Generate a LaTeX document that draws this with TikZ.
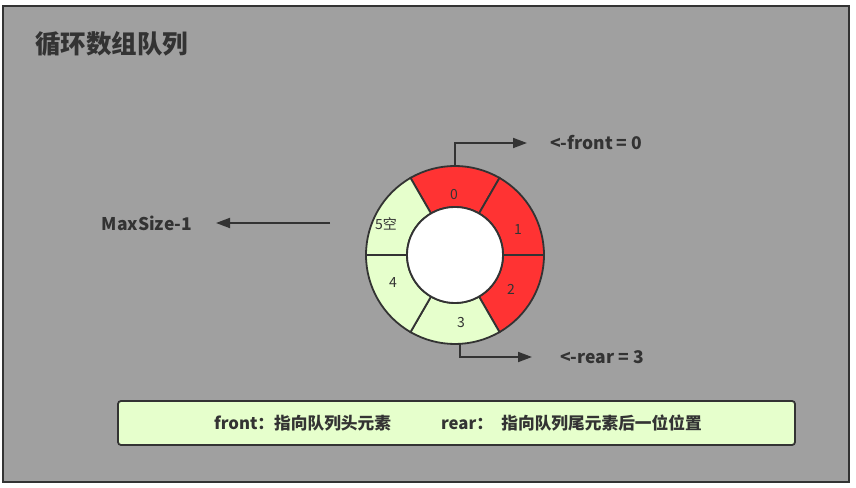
\documentclass[tikz,border=0pt]{standalone}
\usepackage{fontspec}
\setmainfont{Noto Sans CJK SC}
\usetikzlibrary{arrows.meta,positioning}
\definecolor{bggray}{HTML}{A0A0A0}
\definecolor{qred}{HTML}{FF3333}
\definecolor{qgreen}{HTML}{E6FFCC}
\definecolor{ink}{HTML}{333333}
\begin{document}
\begin{tikzpicture}[x=1pt,y=1pt]
                \useasboundingbox (0,0) rectangle (856,487);
                \fill[white] (0,0) rectangle (856,487);
                \draw[ink, line width=2pt, fill=bggray] (3,5) rectangle (849,481);
                \node[anchor=west, text=ink, font=\bfseries\fontsize{25.5}{30}\selectfont, inner sep=0] (title) at (35,443) {循环数组队列};
                % ring of six slots
                \begin{scope}[shift={(455,232)}, ink, line width=1.8pt]
                        \foreach \a/\c in {60/qred, 0/qred, -60/qred, -120/qgreen, 180/qgreen, 120/qgreen}
                                \filldraw[fill=\c] (\a:89) arc[start angle=\a, end angle=\a+60, radius=89] -- (\a+60:48) arc[start angle=\a+60, end angle=\a, radius=48] -- cycle;
                        \filldraw[fill=white] (0,0) circle [radius=48];
                \end{scope}
                \node[circle, minimum size=178pt, inner sep=0] (ring) at (455,232) {};
                \begin{scope}[every node/.style={text=ink, font=\fontsize{14}{16}\selectfont, inner sep=0}]
                        \node (s0) at (454,292) {0};
                        \node (s1) at (518,257) {1};
                        \node (s2) at (511,198) {2};
                        \node (s3) at (461,164) {3};
                        \node (s4) at (393,204) {4};
                        \node (s5) at (386,263) {5空};
                \end{scope}
                \begin{scope}[every node/.style={text=ink, font=\bfseries\fontsize{17.5}{21}\selectfont, inner sep=0}]
                        \node[anchor=west] (frontlbl) at (550,344) {<-front = 0};
                        \node[anchor=west] (rearlbl) at (560,130) {<-rear = 3};
                        \node (maxlbl) at (147,264) {MaxSize-1};
                \end{scope}
                \coordinate (fronttip) at (527,344);
                \coordinate (reartip) at (532,130);
                \coordinate (rearfoot) at (460,143.1);
                \coordinate (maxtail) at (330,264);
                \coordinate (maxtip) at (216,264);
                \begin{scope}[every path/.style={draw=ink, line width=1.8pt, -{Triangle[length=14pt,width=10pt]}}]
                        \path (ring.north) |- (fronttip);
                        \path (rearfoot) |- (reartip);
                        \path (maxtail) -- (maxtip);
                \end{scope}
                % legend
                \draw[ink, line width=1.8pt, fill=qgreen, rounded corners=3pt] (118,42) rectangle (795,86);
                \node[text=ink, font=\bfseries\fontsize{16.7}{20}\selectfont, inner sep=0] (legend) at (458,64) {front：指向队列头元素\hspace{3em}rear：\hspace{0.5em}指向队列尾元素后一位位置};
\end{tikzpicture}
\end{document}
